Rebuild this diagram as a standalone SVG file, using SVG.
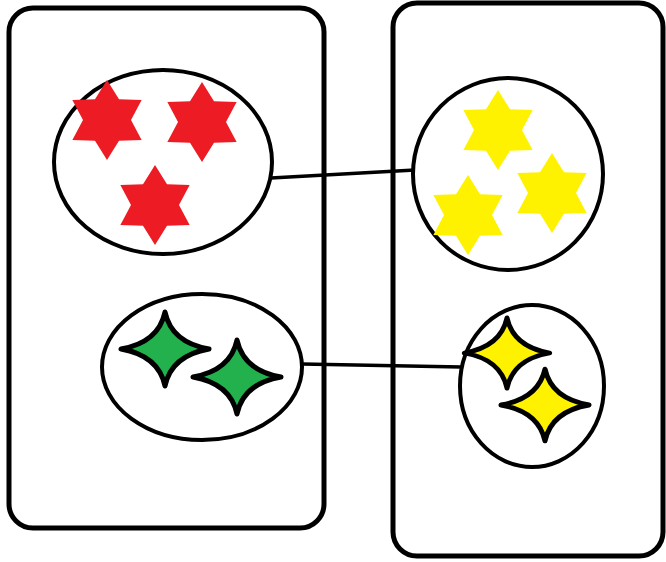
<svg xmlns="http://www.w3.org/2000/svg" xmlns:xlink="http://www.w3.org/1999/xlink" width="666" height="562" viewBox="0 0 666 562">
<style>
.box{fill:#fff;stroke:#000;stroke-width:5}
.set{fill:#fff;stroke:#000;stroke-width:4}
.link{stroke:#000;stroke-width:3.5;fill:none}
.red{fill:#ED1C24}
.yel{fill:#FFF200}
.g4{fill:#22B14C;stroke:#000;stroke-width:5;stroke-linejoin:round}
.y4{fill:#FFF200;stroke:#000;stroke-width:5;stroke-linejoin:round}
</style>
<defs>
<polygon id="hex" points="0,-40 12,-20.8 34.64,-20 24,0 34.64,20 12,20.8 0,40 -12,20.8 -34.64,20 -24,0 -34.64,-20 -12,-20.8"/>
<path id="four" d="M0,-37 Q6.5,-6.5 44,0 Q6.5,6.5 0,37 Q-6.5,6.5 -44,0 Q-6.5,-6.5 0,-37Z"/>
</defs>
<g id="left-box"><rect class="box" x="9" y="8" width="315" height="520" rx="24"/></g>
<g id="right-box"><rect class="box" x="393" y="3" width="270" height="553" rx="24"/></g>
<g id="connectors">
<line class="link" x1="271" y1="178" x2="415" y2="170"/>
<line class="link" x1="302" y1="364" x2="461" y2="367"/>
</g>
<g id="red-set">
<ellipse class="set" cx="163" cy="162" rx="109" ry="92"/>
<use href="#hex" class="red" x="107" y="120"/>
<use href="#hex" class="red" x="202" y="122"/>
<use href="#hex" class="red" x="155" y="205"/>
</g>
<g id="yellow-set">
<ellipse class="set" cx="508" cy="174" rx="95" ry="96"/>
<use href="#hex" class="yel" x="498" y="130"/>
<use href="#hex" class="yel" x="552" y="193"/>
<use href="#hex" class="yel" x="468" y="215"/>
</g>
<g id="green-set">
<ellipse class="set" cx="202" cy="367" rx="100" ry="73"/>
<use href="#four" class="g4" x="165" y="349"/>
<use href="#four" class="g4" x="237" y="377"/>
</g>
<g id="small-yellow-set">
<ellipse class="set" cx="532" cy="386" rx="72" ry="81"/>
<use href="#four" class="y4" transform="translate(507,353) scale(0.97,0.95)"/>
<use href="#four" class="y4" transform="translate(545,405) scale(1,0.97)"/>
</g>
</svg>
